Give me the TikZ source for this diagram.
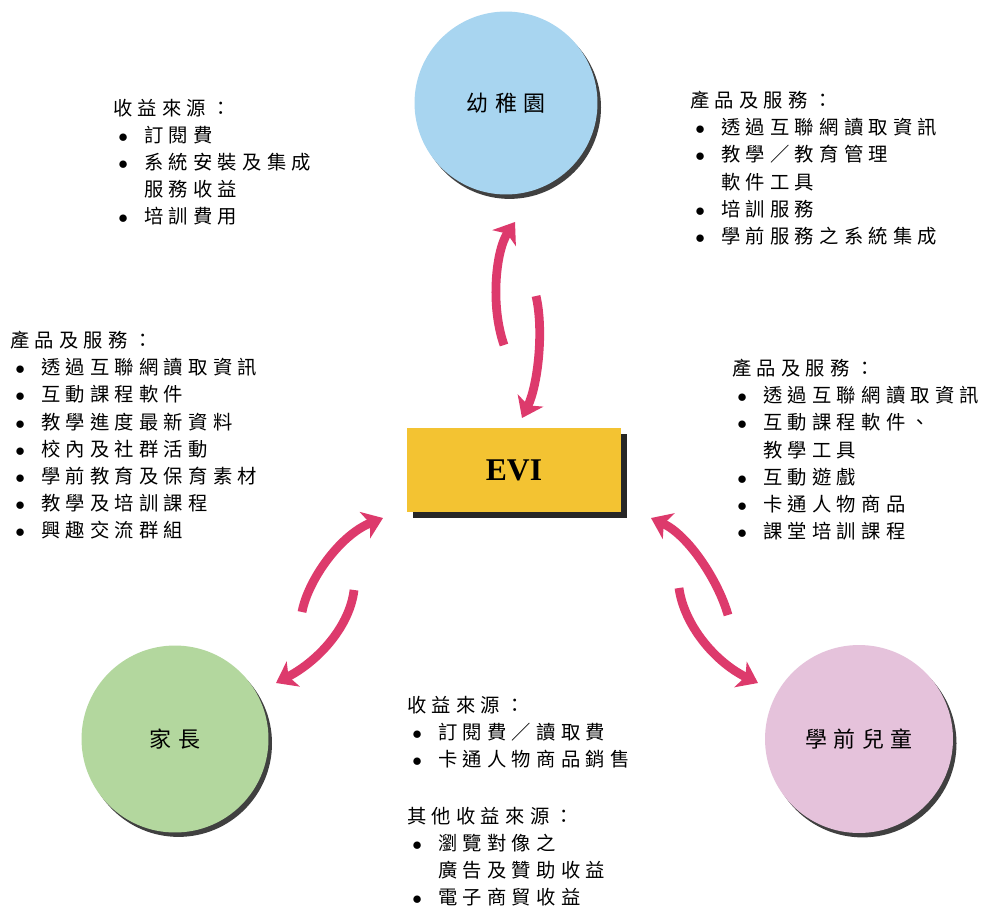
\documentclass[tikz,border=0pt]{standalone}
\usepackage{fontspec}
\setmainfont{Liberation Serif}
\newfontfamily\cjkbody[LetterSpace=27]{Noto Sans CJK TC}
\newfontfamily\cjklabel[LetterSpace=28]{Noto Sans CJK TC}
\usetikzlibrary{arrows.meta}
\usetikzlibrary{shadows}
\definecolor[named]{EVIYellow}{RGB}{243,195,50}
\definecolor[named]{KgBlue}{RGB}{168,213,240}
\definecolor[named]{ParGreen}{RGB}{179,215,158}
\definecolor[named]{ChPink}{RGB}{229,194,219}
\definecolor[named]{FlowRed}{RGB}{221,58,108}
\newcommand{\itm}{\hspace*{2.9pt}\makebox[14.7pt][l]{$\bullet$}}
\newcommand{\cnt}{\hspace*{17.6pt}}
\tikzset{
  infotext/.style={anchor=north west, inner sep=0pt, align=left,
    font=\cjkbody\fontsize{11}{15.42}\selectfont},
  partner/.style={circle, fill=#1, minimum size=3.66cm, inner sep=0pt,
    font=\cjklabel\fontsize{12.5}{14}\selectfont,
    drop shadow={shadow xshift=2pt, shadow yshift=-2.5pt, fill=black, opacity=.75}},
  evibox/.style={rectangle, fill=EVIYellow, minimum width=4.3cm, minimum height=1.68cm,
    font=\bfseries\fontsize{18}{20}\selectfont,
    drop shadow={shadow xshift=3.4pt, shadow yshift=-3.4pt, fill=black, opacity=.85}},
  flow/.style={draw=FlowRed, line width=5pt, -{Stealth[length=11pt,width=16pt,inset=3pt]}}
}
\begin{document}
\begin{tikzpicture}[x=0.02cm,y=-0.02cm]
  \path[use as bounding box, fill=white] (0,0) rectangle (989,912);
  \node[partner=KgBlue] (kg) at (506,103) {幼稚園};
  \node[partner=ParGreen, minimum size=3.74cm] (par) at (175,739) {家長};
  \node[partner=ChPink, minimum size=3.76cm] (ch) at (859,739) {學前兒童};
  \node[evibox] (evi) at (514,470) {EVI};

  \node[infotext] (kgRev) at (113,99) {收益來源：\\
    \itm 訂閱費\\
    \itm 系統安裝及集成\\
    \cnt 服務收益\\
    \itm 培訓費用};
  \node[infotext] (kgProd) at (690,91) {產品及服務：\\
    \itm 透過互聯網讀取資訊\\
    \itm 教學／教育管理\\
    \cnt 軟件工具\\
    \itm 培訓服務\\
    \itm 學前服務之系統集成};
  \node[infotext] (parProd) at (10,331) {產品及服務：\\
    \itm 透過互聯網讀取資訊\\
    \itm 互動課程軟件\\
    \itm 教學進度最新資料\\
    \itm 校內及社群活動\\
    \itm 學前教育及保育素材\\
    \itm 教學及培訓課程\\
    \itm 興趣交流群組};
  \node[infotext] (chProd) at (732,359) {產品及服務：\\
    \itm 透過互聯網讀取資訊\\
    \itm 互動課程軟件、\\
    \cnt 教學工具\\
    \itm 互動遊戲\\
    \itm 卡通人物商品\\
    \itm 課堂培訓課程};
  \node[infotext] (eviRev) at (407,696) {收益來源：\\
    \itm 訂閱費／讀取費\\
    \itm 卡通人物商品銷售\\[16.9pt]
    其他收益來源：\\
    \itm 瀏覽對像之\\
    \cnt 廣告及贊助收益\\
    \itm 電子商貿收益};

  % arrow ends
  \coordinate (kgUpT) at (504,345); \coordinate (kgUpH) at (515,222);
  \coordinate (kgDnT) at (536,296); \coordinate (kgDnH) at (522,418);
  \coordinate (parUpT) at (302,612); \coordinate (parUpH) at (383,518);
  \coordinate (parDnT) at (354,590); \coordinate (parDnH) at (276,683);
  \coordinate (chUpT) at (728,615); \coordinate (chUpH) at (651,518);
  \coordinate (chDnT) at (679,588); \coordinate (chDnH) at (758,683);

  \draw[flow] (kgUpT) .. controls (490,305) and (496,250) .. (kgUpH);
  \draw[flow] (kgDnT) .. controls (544,330) and (538,385) .. (kgDnH);
  \draw[flow] (parUpT) .. controls (308,580) and (340,535) .. (parUpH);
  \draw[flow] (parDnT) .. controls (350,625) and (320,660) .. (parDnH);
  \draw[flow] (chUpT) .. controls (718,580) and (688,535) .. (chUpH);
  \draw[flow] (chDnT) .. controls (684,625) and (715,662) .. (chDnH);
\end{tikzpicture}
\end{document}
